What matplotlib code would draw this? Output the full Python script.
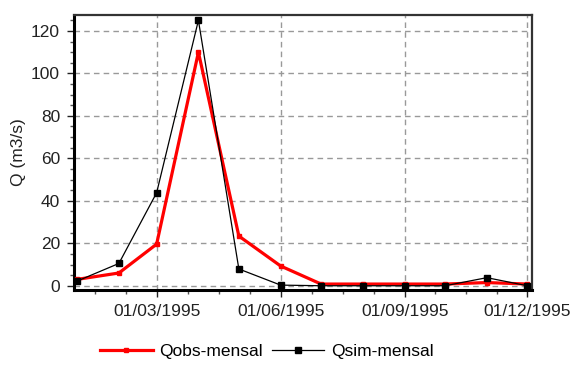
import datetime as dt
import numpy as np
import matplotlib
matplotlib.use('Agg')
import matplotlib.pyplot as plt
import matplotlib.dates as mdates
from matplotlib.ticker import FixedLocator, MultipleLocator

plt.rcParams['font.family'] = ['Liberation Sans', 'DejaVu Sans']

# monthly values, 1995
months = [dt.datetime(1995, m, 1) for m in range(1, 13)]
q_obs = [3.0, 6.0, 19.6, 110.0, 23.4, 9.3, 0.8, 0.8, 0.8, 0.8, 1.5, 0.8]
q_sim = [2.2, 10.5, 43.8, 125.0, 7.9, 0.3, 0.0, 0.0, 0.0, 0.0, 3.8, 0.0]
major_dates = [dt.datetime(1995, 3, 1), dt.datetime(1995, 6, 1),
               dt.datetime(1995, 9, 1), dt.datetime(1995, 12, 1)]

fig = plt.figure(figsize=(5.77, 3.65), dpi=100)
ax = fig.add_axes([0.1282, 0.2055, 0.922 - 0.1282, 0.9589 - 0.2055])

ax.plot(months, q_obs, color='#ff0000', lw=2.3, marker='s', ms=3.5,
        label='Qobs-mensal', zorder=3)
ax.plot(months, q_sim, color='black', lw=0.9, marker='s', ms=4.2,
        label='Qsim-mensal', zorder=4)

ax.set_xlim(dt.datetime(1994, 12, 29, 16), dt.datetime(1995, 12, 4, 12))
ax.set_ylim(-2, 127.5)

# ticks
maj = mdates.date2num(major_dates)
minors = []
step = (maj[1] - maj[0]) / 4
for k in range(1, 4):
    minors.append(maj[0] - k * step)
for a, b in zip(maj[:-1], maj[1:]):
    minors.extend(np.linspace(a, b, 5)[1:-1])
ax.xaxis.set_major_locator(FixedLocator(maj))
ax.xaxis.set_minor_locator(FixedLocator(minors))
ax.xaxis.set_major_formatter(mdates.DateFormatter('%d/%m/%Y'))
ax.yaxis.set_major_locator(MultipleLocator(20))
ax.yaxis.set_minor_locator(MultipleLocator(5))

ax.tick_params(which='major', direction='out', length=5, width=1,
               labelsize=12.5, colors='#222222', pad=5)
ax.tick_params(which='minor', direction='out', length=3, width=1, color='#555555')

ax.grid(True, which='major', color='#999999', linestyle=(0, (4, 3)), lw=1)

for side in ['left', 'bottom']:
    ax.spines[side].set_linewidth(2.2)
for side in ['top', 'right']:
    ax.spines[side].set_linewidth(1.6)
    ax.spines[side].set_color('#333333')

ax.set_ylabel('Q (m3/s)', fontsize=12.5, color='#222222', labelpad=4)

fig.legend(loc='center left', bbox_to_anchor=(0.162, 0.038), ncol=2,
           frameon=False, fontsize=12.5, handlelength=3.0, handletextpad=0.4,
           columnspacing=0.5, borderaxespad=0)

fig.savefig('out.png', dpi=100)
